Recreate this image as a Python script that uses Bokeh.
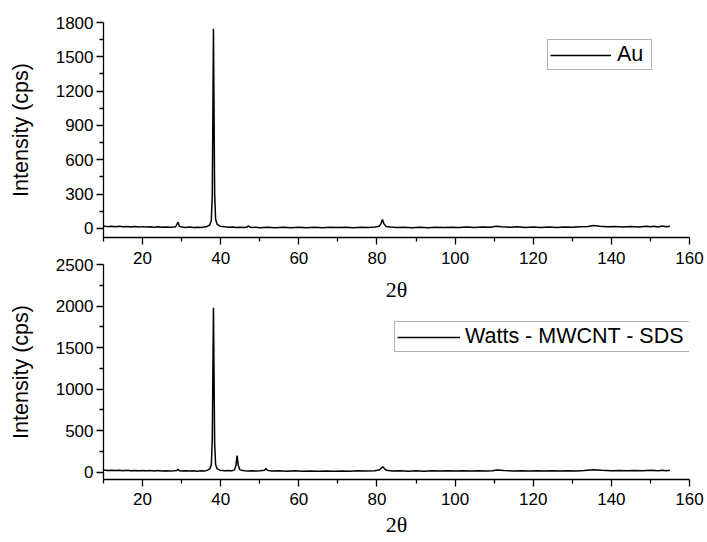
from bokeh.plotting import figure
from bokeh.layouts import column
from bokeh.models import FixedTicker, Legend, LegendItem, Range1d
from bokeh.embed import file_html
from bokeh.resources import INLINE

# ---- data ----
au_x = [10, 11, 12, 13, 14, 15, 16, 17, 18, 19, 20, 21, 22, 23, 24, 25, 26, 27, 27.8, 28.5, 28.9, 29.1, 29.4, 30,
        31, 32, 33, 34, 35, 35.8, 36.5, 37.2, 37.6, 37.85, 38.0, 38.15, 38.3, 38.45, 38.7, 39.1, 39.8, 41, 42, 43,
        44, 45, 46, 46.8, 47.1, 47.4, 48, 49, 50, 52, 54, 56, 58, 60, 62, 64, 66, 68, 70, 72, 74, 76, 78, 79.5,
        80.6, 81.0, 81.4, 81.8, 82.3, 83.5, 85, 87, 89, 91, 93, 95, 97, 99, 101, 103, 105, 107, 109, 110.5, 112,
        114, 116, 118, 120, 122, 124, 126, 128, 130, 132, 134, 135.5, 137, 139, 141, 143, 145, 147, 149, 150, 151,
        152, 153, 154, 155]
au_y = [22, 16, 20, 15, 19, 14, 18, 13, 17, 12, 16, 12, 15, 11, 14, 10, 13, 10, 12, 15, 45, 55, 20, 12,
        9, 12, 8, 11, 8, 12, 18, 30, 70, 300, 1000, 1745, 1000, 300, 80, 35, 20, 14, 10, 12,
        9, 11, 8, 12, 25, 12, 8, 11, 7, 11, 7, 10, 7, 11, 7, 10, 7, 11, 8, 11, 7, 11, 8, 13,
        20, 40, 78, 40, 18, 12, 8, 11, 7, 11, 7, 11, 8, 11, 8, 12, 8, 12, 10, 20, 16,
        11, 14, 9, 13, 9, 13, 9, 13, 10, 15, 18, 26, 20, 14, 17, 12, 18, 13, 19, 14, 20,
        13, 21, 14, 20]

wm_x = [10, 11, 12, 13, 14, 15, 16, 17, 18, 19, 20, 21, 22, 23, 24, 25, 26, 27, 28, 28.8, 29.1, 29.4, 30, 31,
        32, 33, 34, 35, 35.8, 36.5, 37.2, 37.6, 37.85, 38.0, 38.15, 38.3, 38.45, 38.7, 39.1, 39.8, 41, 42, 42.8,
        43.5, 43.9, 44.2, 44.5, 44.9, 46, 47, 48, 49, 50, 51.2, 51.6, 52.0, 53, 55, 57, 59, 61, 63, 65, 67, 69,
        71, 73, 75, 77, 79.5, 80.7, 81.1, 81.5, 81.9, 82.4, 84, 86, 88, 90, 92, 94, 96, 98, 100, 102, 104, 106,
        108, 109.5, 110.8, 112.5, 115, 117, 119, 121, 123, 125, 127, 129, 131, 133, 135.5, 137.5, 140, 142, 144,
        146, 148, 150, 152, 153, 154, 155]
wm_y = [25, 20, 24, 19, 23, 18, 22, 17, 21, 17, 20, 16, 19, 15, 19, 15, 18, 15, 17, 20, 35, 18, 13, 17,
        13, 16, 12, 16, 14, 22, 40, 90, 400, 1200, 1980, 1150, 350, 90, 40, 24, 16, 19, 17,
        25, 80, 200, 80, 28, 18, 14, 17, 13, 16, 22, 45, 22, 13, 16, 12, 16, 12, 15, 12, 15, 12,
        15, 12, 16, 13, 18, 30, 50, 65, 45, 22, 14, 17, 12, 16, 12, 16, 13, 18, 13, 17, 13, 17,
        14, 18, 26, 20, 15, 18, 14, 18, 14, 18, 14, 18, 15, 19, 28, 22, 17, 21, 16,
        21, 17, 22, 18, 23, 18, 23]

x_ticks = [20, 40, 60, 80, 100, 120, 140, 160]
x_minor = [10, 30, 50, 70, 90, 110, 130, 150]
au_yticks = [0, 300, 600, 900, 1200, 1500, 1800]
au_yminor = [150, 450, 750, 1050, 1350, 1650]
wm_yticks = [0, 500, 1000, 1500, 2000, 2500]
wm_yminor = [250, 750, 1250, 1750, 2250]

SANS = "Liberation Sans"
SERIF = "Liberation Serif"


def style(p, yticks, yminor, x_label_standoff, x_tick_standoff):
    p.xgrid.visible = False
    p.ygrid.visible = False
    p.outline_line_color = None
    p.xaxis.ticker = FixedTicker(ticks=x_ticks, minor_ticks=x_minor)
    p.yaxis.ticker = FixedTicker(ticks=yticks, minor_ticks=yminor)
    for ax in (p.xaxis, p.yaxis):
        ax.axis_line_width = 1.3
        ax.axis_line_color = "black"
        ax.major_tick_line_color = "black"
        ax.minor_tick_line_color = "black"
        ax.major_tick_line_width = 1.3
        ax.minor_tick_line_width = 1.3
        ax.major_tick_out = 7
        ax.major_tick_in = 0
        ax.minor_tick_out = 4
        ax.minor_tick_in = 0
        ax.major_label_text_font = SANS
        ax.major_label_text_font_size = "17px"
        ax.major_label_text_color = "black"
        ax.axis_label_text_font_style = "normal"
        ax.axis_label_text_color = "black"
    p.yaxis.major_label_standoff = 3
    p.xaxis.major_label_standoff = x_tick_standoff
    p.xaxis.axis_label = "2θ"
    p.xaxis.axis_label_text_font = SERIF
    p.xaxis.axis_label_text_font_size = "22px"
    p.xaxis.axis_label_standoff = x_label_standoff
    p.yaxis.axis_label = "Intensity (cps)"
    p.yaxis.axis_label_text_font = SANS
    p.yaxis.axis_label_text_font_size = "21.5px"
    p.yaxis.axis_label_standoff = 20


# ---- top: Au ----
p1 = figure(width=707, height=310, output_backend="svg", toolbar_location=None,
            x_range=Range1d(10, 160), y_range=Range1d(-79, 1800),
            min_border_left=103, min_border_right=18, min_border_top=22, min_border_bottom=73)
style(p1, au_yticks, au_yminor, x_label_standoff=10, x_tick_standoff=7)
r1 = p1.line(au_x, au_y, line_color="black", line_width=1.5)
leg1 = Legend(items=[LegendItem(label="Au", renderers=[r1])], location=(444, 167),
              padding=2, spacing=0, margin=0, glyph_width=61, label_standoff=6, label_width=32,
              border_line_color="#666666", border_line_width=1,
              label_text_font=SANS, label_text_font_size="21.5px", label_text_color="black")
p1.add_layout(leg1, "center")

# ---- bottom: Watts - MWCNT - SDS ----
p2 = figure(width=707, height=297, output_backend="svg", toolbar_location=None,
            x_range=Range1d(10, 160), y_range=Range1d(-88, 2500),
            min_border_left=103, min_border_right=18, min_border_top=19, min_border_bottom=63,
            margin=(-65, 0, 0, 0))
p2.border_fill_alpha = 0
p2.background_fill_alpha = 0
style(p2, wm_yticks, wm_yminor, x_label_standoff=4, x_tick_standoff=6)
r2 = p2.line(wm_x, wm_y, line_color="black", line_width=1.5)
leg2 = Legend(items=[LegendItem(label="Watts - MWCNT - SDS", renderers=[r2])], location=(291, 127),
              padding=2, spacing=0, margin=0, glyph_width=63, label_standoff=5, label_width=229,
              border_line_color="#666666", border_line_width=1,
              label_text_font=SANS, label_text_font_size="21.5px", label_text_color="black")
p2.add_layout(leg2, "center")

layout = column(p1, p2, spacing=0)
open("out.html", "w").write(file_html(layout, INLINE))
